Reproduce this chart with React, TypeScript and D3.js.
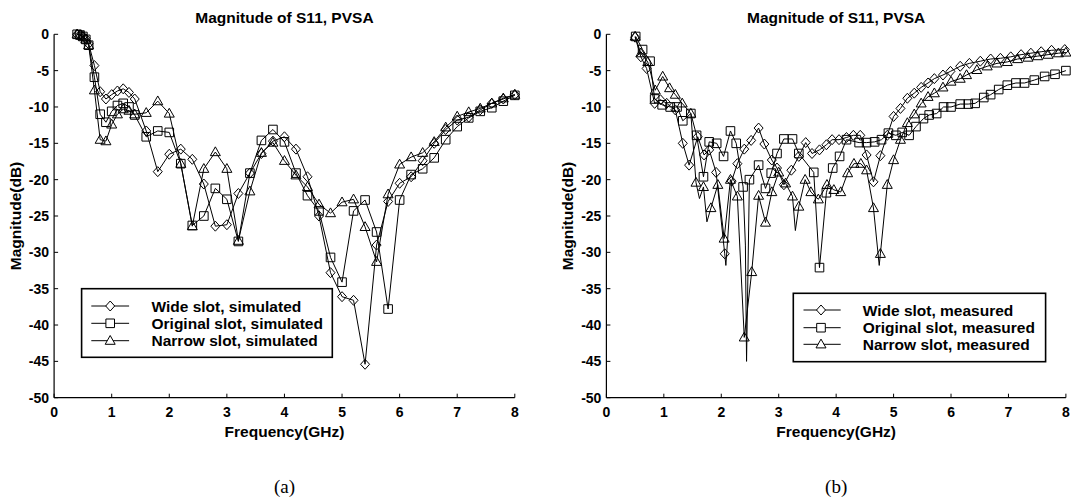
import React from "react";
import * as d3 from "d3";

// ---------- data ----------
const xTicks = [0, 1, 2, 3, 4, 5, 6, 7, 8];
const yTicks = [0, -5, -10, -15, -20, -25, -30, -35, -40, -45, -50];

const titleText = "Magnitude of S11, PVSA";
const xLabelText = "Frequency(GHz)";
const yLabelText = "Magnitude(dB)";

const simFreq = [0.4, 0.45, 0.5, 0.55, 0.6, 0.7, 0.8, 0.9, 1.0, 1.1, 1.2, 1.3, 1.4,
  1.6, 1.8, 2.0, 2.2, 2.4, 2.6, 2.8, 3.0, 3.2, 3.4, 3.6, 3.8, 4.0, 4.2, 4.4, 4.6, 4.8, 5.0,
  5.2, 5.4, 5.6, 5.8, 6.0, 6.2, 6.4, 6.6, 6.8, 7.0, 7.2, 7.4, 7.6, 7.8, 8.0];

const simWide = [0, -0.1, -0.3, -0.6, -1.3, -4.3, -7.9, -8.9, -8.3, -7.8, -7.5, -8.0, -8.9,
  -13.3, -18.9, -16.5, -15.8, -17.2, -20.6, -26.4, -26.2, -21.9, -19.1,
  -16.4, -14.7, -14.1, -15.8, -19.6, -25.0, -32.8, -36.1, -36.6, -45.4,
  -29.0, -23.0, -20.5, -19.6, -17.4, -15.0, -13.1, -11.8, -11.4, -10.4,
  -9.5, -8.9, -8.3];
const simOrig = [0, -0.1, -0.3, -0.7, -1.5, -5.9, -11.0, -12.1, -10.6, -9.8, -9.5, -10.0, -11.1,
  -14.1, -13.3, -13.5, -17.8, -26.3, -25.0, -21.2, -22.7, -28.5, -19.1,
  -14.6, -13.1, -14.8, -19.1, -22.2, -24.3, -30.7, -34.1, -24.3, -22.8,
  -27.2, -37.8, -22.8, -19.3, -18.5, -17.0, -14.5, -12.7, -11.5, -10.6,
  -10.1, -9.2, -8.4];
const simNarrow = [0, -0.1, -0.3, -0.7, -1.5, -7.7, -14.5, -14.7, -12.4, -11.0, -10.3, -10.5, -11.0,
  -10.8, -9.2, -10.9, -17.8, -26.4, -18.5, -16.2, -18.5, -28.4, -21.6,
  -16.3, -14.9, -17.4, -19.4, -21.0, -23.4, -24.6, -23.1, -22.7, -26.5,
  -31.3, -22.0, -17.9, -16.9, -16.3, -14.8, -12.8, -11.3, -10.7, -10.2,
  -9.5, -8.8, -8.3];

const measWideFreq = [0.5, 0.6, 0.7, 0.84, 0.94, 1.05, 1.2, 1.33, 1.44, 1.59, 1.7, 1.79, 1.91, 2.06,
  2.18, 2.28, 2.4, 2.52, 2.65, 2.75, 2.88, 2.97, 3.09, 3.22, 3.35, 3.47, 3.58, 3.71, 3.83, 3.93,
  4.05, 4.18, 4.3, 4.42, 4.53, 4.65, 4.77, 4.89, 5.0, 5.12, 5.24, 5.36, 5.48, 5.6, 5.71, 5.86,
  5.99, 6.16, 6.32, 6.51, 6.69, 6.86, 7.04, 7.22, 7.39, 7.57, 7.75, 7.98];
const measWide = [-0.4, -3.1, -4.7, -9.5, -9.0, -9.5, -10.4, -15.0, -18.0, -14.1, -16.6, -15.9, -19.0, -30.2,
  -20.2, -17.8, -15.8, -14.6, -12.9, -15.1, -17.3, -18.4, -20.7, -18.7, -16.8, -14.9, -16.4, -15.9, -15.2, -14.5,
  -14.5, -14.2, -13.9, -13.9, -16.6, -20.3, -16.7, -13.9, -11.3, -10.2, -8.8, -8.1, -7.3, -6.7, -6.1, -5.6,
  -5.1, -4.4, -4.0, -3.7, -3.4, -3.3, -3.1, -2.8, -2.6, -2.4, -2.2, -2.1];
const measWideSpikeFreq = [2.08];
const measWideSpike = [-31.8];

const measOrigFreq = [0.51, 0.63, 0.76, 0.84, 0.97, 1.11, 1.23, 1.33, 1.47, 1.57, 1.69, 1.79, 1.92, 2.04,
  2.16, 2.26, 2.38, 2.49, 2.65, 2.77, 2.87, 2.97, 3.09, 3.24, 3.35, 3.61, 3.71, 3.83, 3.94, 4.06,
  4.18, 4.4, 4.53, 4.67, 4.79, 4.91, 5.04, 5.15, 5.27, 5.39, 5.52, 5.62, 5.75, 5.87, 6.0, 6.16,
  6.3, 6.42, 6.57, 6.69, 6.83, 6.98, 7.13, 7.28, 7.45, 7.63, 7.81, 8.0];
const measOrig = [-0.3, -2.1, -3.7, -8.9, -9.7, -10.0, -10.0, -11.9, -10.9, -13.9, -19.6, -14.8, -15.0, -16.8,
  -13.3, -15.0, -21.0, -20.0, -18.0, -21.2, -19.1, -16.4, -14.4, -14.4, -16.4, -19.0, -32.1, -21.8, -18.4, -16.8,
  -14.5, -14.9, -14.9, -14.8, -14.5, -13.6, -13.9, -13.5, -13.9, -12.7, -11.6, -11.1, -10.9, -10.0, -10.0, -9.6,
  -9.6, -9.5, -8.7, -8.3, -7.6, -7.0, -6.7, -6.7, -6.3, -5.8, -5.5, -5.0];
const measOrigSpikeFreq = [2.42, 2.44];
const measOrigSpike = [-29.0, -45.0];

const measNarrowFreq = [0.5, 0.6, 0.72, 0.85, 0.98, 1.1, 1.2, 1.32, 1.47, 1.56, 1.69, 1.82, 1.94, 2.05,
  2.16, 2.28, 2.4, 2.53, 2.65, 2.77, 2.88, 3.0, 3.12, 3.24, 3.35, 3.46, 3.56, 3.69, 3.84, 3.96,
  4.08, 4.2, 4.31, 4.43, 4.53, 4.65, 4.77, 4.89, 5.0, 5.12, 5.24, 5.36, 5.48, 5.6, 5.71, 5.86,
  6.0, 6.16, 6.27, 6.45, 6.63, 6.8, 6.98, 7.16, 7.34, 7.51, 7.69, 7.87, 8.0];
const measNarrow = [-0.3, -2.6, -3.8, -7.7, -5.8, -7.4, -8.3, -9.5, -10.9, -20.4, -21.0, -23.9, -20.7, -28.1,
  -20.0, -22.3, -41.7, -32.7, -22.2, -25.9, -21.7, -19.0, -20.5, -22.3, -23.7, -20.0, -21.7, -22.7, -20.7, -21.4,
  -21.7, -19.1, -17.8, -17.8, -18.7, -23.9, -30.2, -20.7, -17.3, -14.5, -12.2, -11.0, -9.5, -8.6, -8.1, -7.3,
  -6.5, -6.1, -5.6, -4.9, -4.4, -4.0, -3.8, -3.4, -3.2, -3.0, -2.8, -2.6, -2.5];
const measNarrowSpikeFreq = [1.62, 1.75, 3.29, 4.75];
const measNarrowSpike = [-22.6, -25.8, -27.0, -31.8];

const simNames = ["Wide slot, simulated", "Original slot, simulated", "Narrow slot, simulated"];
const measNames = ["Wide slot, measured", "Original slot, measured", "Narrow slot, measured"];

// ---------- rendering ----------
type MarkerKind = "diamond" | "square" | "triangle";
type Series = {
  freq: number[];
  vals: number[];
  spikeFreq?: number[];
  spikeVals?: number[];
  marker: MarkerKind;
};

const FONT = "'Liberation Sans', Arial, Helvetica, sans-serif";

function markerPath(kind: MarkerKind, x: number, y: number): string {
  if (kind === "diamond") {
    return `M${x},${y - 5}L${x + 4.5},${y}L${x},${y + 5}L${x - 4.5},${y}Z`;
  }
  if (kind === "square") {
    return `M${x - 4.3},${y - 4.3}h8.6v8.6h-8.6Z`;
  }
  return `M${x},${y - 5.2}L${x + 5},${y + 3.6}L${x - 5},${y + 3.6}Z`;
}

type PanelProps = {
  x0: number;
  x1: number;
  series: Series[];
  names: string[];
  legend: { left: number; right: number; top: number; bottom: number; rows: number[]; lineX1: number; lineX2: number; markX: number; textX: number };
  caption: string;
};

const Y0 = 34.3;
const Y1 = 397.7;

function Panel({ x0, x1, series, names, legend, caption }: PanelProps) {
  const xs = d3.scaleLinear().domain([0, 8]).range([x0, x1]);
  const ys = d3.scaleLinear().domain([0, -50]).range([Y0, Y1]);
  const line = d3
    .line<[number, number]>()
    .x((d) => xs(d[0]))
    .y((d) => ys(d[1]));
  const cx = (x0 + x1) / 2;

  return (
    <g>
      <text x={cx} y={22.5} textAnchor="middle" fontFamily={FONT} fontWeight="bold" fontSize={15.5}>
        {titleText}
      </text>

      {series.map((s, i) => {
        const pts: [number, number][] = s.freq.map((f, j) => [f, s.vals[j]] as [number, number]);
        const spikes: [number, number][] = (s.spikeFreq || []).map(
          (f, j) => [f, (s.spikeVals as number[])[j]] as [number, number]
        );
        const all = pts.concat(spikes).sort((a, b) => a[0] - b[0]);
        return (
          <g key={i}>
            <path d={line(all) || ""} fill="none" stroke="#000" strokeWidth={1} />
            {pts.map((p, j) => (
              <path key={j} d={markerPath(s.marker, xs(p[0]), ys(p[1]))} fill="none" stroke="#000" strokeWidth={1} />
            ))}
          </g>
        );
      })}

      {/* axes */}
      <line x1={x0} x2={x0} y1={Y0} y2={Y1} stroke="#000" strokeWidth={1.2} />
      <line x1={x0} x2={x1} y1={Y1} y2={Y1} stroke="#000" strokeWidth={1.2} />
      {yTicks.map((t) => (
        <g key={"y" + t}>
          <line x1={x0} x2={x0 + 4} y1={ys(t)} y2={ys(t)} stroke="#000" strokeWidth={1} />
          <text x={x0 - 5} y={ys(t)} dy="0.36em" textAnchor="end" fontFamily={FONT} fontWeight="bold" fontSize={14}>
            {t}
          </text>
        </g>
      ))}
      {xTicks.map((t) => (
        <g key={"x" + t}>
          <line x1={xs(t)} x2={xs(t)} y1={Y1} y2={Y1 - 4} stroke="#000" strokeWidth={1} />
          <text x={xs(t)} y={417} textAnchor="middle" fontFamily={FONT} fontWeight="bold" fontSize={14}>
            {t}
          </text>
        </g>
      ))}
      <text x={cx} y={437} textAnchor="middle" fontFamily={FONT} fontWeight="bold" fontSize={15.5}>
        {xLabelText}
      </text>
      <text
        transform={`translate(${x0 - 33},${(Y0 + Y1) / 2}) rotate(-90)`}
        textAnchor="middle"
        fontFamily={FONT}
        fontWeight="bold"
        fontSize={15.5}
      >
        {yLabelText}
      </text>

      {/* legend */}
      <rect
        x={legend.left}
        y={legend.top}
        width={legend.right - legend.left}
        height={legend.bottom - legend.top}
        fill="#fff"
        stroke="#000"
        strokeWidth={1.6}
      />
      {series.map((s, i) => (
        <g key={"l" + i}>
          <line x1={legend.lineX1} x2={legend.lineX2} y1={legend.rows[i]} y2={legend.rows[i]} stroke="#000" strokeWidth={1} />
          <path d={markerPath(s.marker, legend.markX, legend.rows[i])} fill="#fff" stroke="#000" strokeWidth={1} />
          <text x={legend.textX} y={legend.rows[i] + 5.5} fontFamily={FONT} fontWeight="bold" fontSize={15.5}>
            {names[i]}
          </text>
        </g>
      ))}

      <text x={cx} y={493} textAnchor="middle" fontFamily="'Liberation Serif', 'Times New Roman', serif" fontSize={19}>
        {caption}
      </text>
    </g>
  );
}

export default function App() {
  const simSeries: Series[] = [
    { freq: simFreq, vals: simWide, marker: "diamond" },
    { freq: simFreq, vals: simOrig, marker: "square" },
    { freq: simFreq, vals: simNarrow, marker: "triangle" },
  ];
  const measSeries: Series[] = [
    { freq: measWideFreq, vals: measWide, spikeFreq: measWideSpikeFreq, spikeVals: measWideSpike, marker: "diamond" },
    { freq: measOrigFreq, vals: measOrig, spikeFreq: measOrigSpikeFreq, spikeVals: measOrigSpike, marker: "square" },
    { freq: measNarrowFreq, vals: measNarrow, spikeFreq: measNarrowSpikeFreq, spikeVals: measNarrowSpike, marker: "triangle" },
  ];
  return (
    <svg
      width={1071}
      height={502}
      viewBox="0 0 1071 502"
      style={{ position: "absolute", left: 0, top: 0, background: "#fff" }}
    >
      <rect x={0} y={0} width={1071} height={502} fill="#fff" />
      <Panel
        x0={54.1}
        x1={514.8}
        series={simSeries}
        names={simNames}
        caption="(a)"
        legend={{ left: 81.6, right: 332.3, top: 288.7, bottom: 357.3, rows: [306, 323.3, 340.7], lineX1: 91.3, lineX2: 129.1, markX: 110.2, textX: 151.5 }}
      />
      <Panel
        x0={606.4}
        x1={1065.9}
        series={measSeries}
        names={measNames}
        caption="(b)"
        legend={{ left: 793.3, right: 1045.6, top: 293.3, bottom: 361.7, rows: [310, 327.7, 344.3], lineX1: 803.5, lineX2: 840.7, markX: 821, textX: 862.7 }}
      />
    </svg>
  );
}
